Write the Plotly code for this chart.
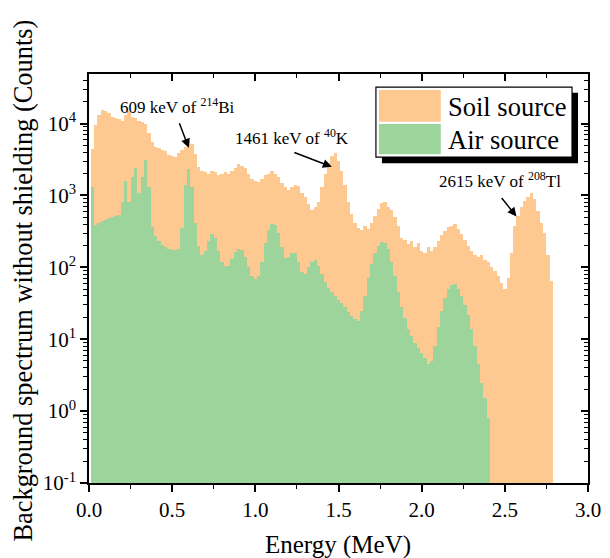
import numpy as np
import plotly.graph_objects as go

# ---------------- data ----------------
BIN_WIDTH = 0.02  # MeV
soil_energy = np.round(np.arange(1, 140) * BIN_WIDTH, 2)   # 0.02 .. 2.78 MeV
air_energy = np.round(np.arange(1, 121) * BIN_WIDTH, 2)    # 0.02 .. 2.40 MeV

soil_counts = [
    4500, 9500, 13000, 15500, 15000, 14000, 12500, 12000, 11500, 11000,
    13000, 15000, 12500, 12000, 11000, 10500, 10000, 7500, 5500, 4800,
    4600, 4300, 4100, 3700, 3500, 3400, 3900, 4300, 4800, 5800,
    5200, 3800, 2500, 2200, 2100, 2000, 2200, 2100, 1900, 2000,
    2100, 2000, 2200, 2400, 2700, 2600, 2400, 2000, 1700, 1600,
    1550, 1700, 1900, 2000, 2200, 2000, 1800, 1500, 1300, 1200,
    1300, 1400, 1350, 1100, 950, 750, 620, 700, 800, 1300,
    2000, 2800, 3500, 3900, 3000, 2200, 1400, 800, 550, 420,
    350, 330, 380, 340, 420, 520, 650, 780, 800, 700,
    620, 500, 380, 260, 240, 210, 230, 190, 220, 170,
    160, 190, 170, 190, 230, 280, 320, 360, 380, 400,
    340, 290, 240, 200, 170, 150, 140, 150, 125, 120,
    100, 90, 75, 60, 50, 70, 160, 380, 520, 700,
    850, 950, 1100, 900, 600, 420, 300, 150, 65,
]

air_counts = [
    1300, 390, 420, 440, 460, 480, 500, 520, 540, 800,
    1600, 800, 1800, 2400, 1100, 1800, 3100, 1300, 360, 270,
    230, 205, 190, 180, 175, 172, 180, 350, 1400, 2300,
    1300, 420, 200, 150, 170, 230, 290, 260, 170, 120,
    105, 105, 130, 165, 180, 175, 140, 100, 75, 68,
    75, 120, 220, 330, 400, 390, 300, 190, 135, 140,
    160, 160, 120, 85, 80, 100, 120, 125, 105, 80,
    62, 52, 45, 40, 35, 32, 28, 24, 21, 19,
    18, 25, 40, 70, 110, 160, 200, 225, 220, 180,
    120, 75, 45, 28, 20, 14, 11, 9, 7.5, 6.5,
    5.5, 4.5, 5, 8, 15, 25, 38, 50, 57, 58,
    50, 40, 30, 22, 14, 8, 4.5, 2.5, 1.5, 0.8,
]

y_tickvals = [0.1, 1, 10, 100, 1000, 10000]
y_ticktext = ["10<sup>-1</sup>", "10<sup>0</sup>", "10<sup>1</sup>",
              "10<sup>2</sup>", "10<sup>3</sup>", "10<sup>4</sup>"]

series_names = ["Soil source", "Air source"]

# peak labels: (text, arrow-head energy, arrow-head counts, text energy, text counts)
peak_labels = [
    ("609 keV of <sup>214</sup>Bi", 0.60, 4600, 0.53, 17400),
    ("1461 keV of <sup>40</sup>K", 1.46, 2500, 1.22, 6500),
    ("2615 keV of <sup>208</sup>Tl", 2.57, 510, 2.47, 1650),
]
peak_arrow_tail = [(-10, -26), (-39, -15), (-16, -20)]

# ---------------- style ----------------
SOIL_COLOR = "#FDC991"
AIR_COLOR = "#9CD49B"
FONT = "Times New Roman, Liberation Serif, serif"

fig = go.Figure()
fig.add_trace(go.Bar(x=soil_energy, y=soil_counts, width=BIN_WIDTH,
                     marker=dict(color=SOIL_COLOR, line=dict(width=0)),
                     name=series_names[0], showlegend=False))
fig.add_trace(go.Bar(x=air_energy, y=air_counts, width=BIN_WIDTH,
                     marker=dict(color=AIR_COLOR, line=dict(width=0)),
                     name=series_names[1], showlegend=False))
# helper trace so that the mirrored (top/right) axes are drawn
fig.add_trace(go.Scatter(x=[], y=[], xaxis="x2", yaxis="y2",
                         showlegend=False, hoverinfo="skip"))

YR = [-1, 4.69]
axis_common = dict(showline=True, linecolor="black", linewidth=1.5,
                   showgrid=False, zeroline=False, tickcolor="black",
                   tickwidth=1.5, ticklen=7, automargin=False)

# the page body has an 8px margin, so the figure is offset by 8px
fig.update_layout(
    width=602, height=550,
    margin=dict(l=81, r=22, t=66, b=75),
    paper_bgcolor="white", plot_bgcolor="white",
    barmode="overlay", bargap=0,
    font=dict(family=FONT, color="black", size=21),
    xaxis=dict(range=[0, 3], dtick=0.5, tick0=0, tickformat=".1f",
               ticks="outside",
               minor=dict(ticks="outside", dtick=0.25, ticklen=4,
                          tickwidth=1.2, tickcolor="black"),
               tickfont=dict(size=21), **axis_common),
    xaxis2=dict(range=[0, 3], overlaying="x", side="top", anchor="y",
                dtick=0.5, tick0=0, ticks="inside", showticklabels=False,
                minor=dict(ticks="inside", dtick=0.25, ticklen=4,
                           tickwidth=1.2, tickcolor="black"),
                **axis_common),
    yaxis=dict(type="log", range=YR, tickmode="array",
               tickvals=y_tickvals, ticktext=y_ticktext, ticks="outside",
               minor=dict(ticks="outside", dtick="D1", ticklen=4,
                          tickwidth=1.2, tickcolor="black"),
               tickfont=dict(size=21), **axis_common),
    yaxis2=dict(type="log", range=YR, overlaying="y", side="right",
                anchor="x", tickmode="array", tickvals=y_tickvals,
                ticks="inside", showticklabels=False,
                minor=dict(ticks="inside", dtick="D1", ticklen=4,
                           tickwidth=1.2, tickcolor="black"),
                **axis_common),
)

annotations = []
for (txt, hx, hy, tx, ty), (axp, ayp) in zip(peak_labels, peak_arrow_tail):
    annotations.append(dict(x=tx, y=np.log10(ty), xref="x", yref="y",
                            text=txt, showarrow=False,
                            xanchor="center", yanchor="middle",
                            font=dict(size=17, family=FONT)))
    annotations.append(dict(x=hx, y=np.log10(hy), xref="x", yref="y",
                            text="", showarrow=True, ax=axp, ay=ayp,
                            arrowhead=2, arrowsize=1.2, arrowwidth=1.5,
                            arrowcolor="black"))

# axis titles
annotations.append(dict(x=0.499, y=-0.152, xref="paper", yref="paper",
                        xanchor="center", yanchor="middle",
                        text="Energy (MeV)", showarrow=False,
                        font=dict(size=25, family=FONT)))
annotations.append(dict(x=-0.133, y=0.494, xref="paper", yref="paper",
                        xanchor="center", yanchor="middle",
                        text="Background spectrum without shielding (Counts)",
                        textangle=-90, showarrow=False,
                        font=dict(size=26.4, family=FONT)))

# legend drawn by hand (large swatches with shadowed frame)
legend_rows = [(series_names[0], SOIL_COLOR, 0.961, 0.883, 0.919),
               (series_names[1], AIR_COLOR, 0.878, 0.804, 0.839)]
shapes = [
    dict(type="rect", xref="paper", yref="paper", x0=0.587, x1=0.980,
         y0=0.782, y1=0.954, fillcolor="black", line=dict(width=0),
         layer="above"),
    dict(type="rect", xref="paper", yref="paper", x0=0.575, x1=0.968,
         y0=0.797, y1=0.968, fillcolor="white",
         line=dict(color="black", width=1.2), layer="above"),
]
for name, col, y1, y0, ym in legend_rows:
    shapes.append(dict(type="rect", xref="paper", yref="paper",
                       x0=0.581, x1=0.705, y0=y0, y1=y1, fillcolor=col,
                       line=dict(width=0), layer="above"))
    annotations.append(dict(x=0.715, y=ym, xref="paper", yref="paper",
                            xanchor="left", yanchor="middle", text=name,
                            showarrow=False, font=dict(size=26.5, family=FONT)))

fig.update_layout(shapes=shapes, annotations=annotations)
fig.write_html("out.html")
